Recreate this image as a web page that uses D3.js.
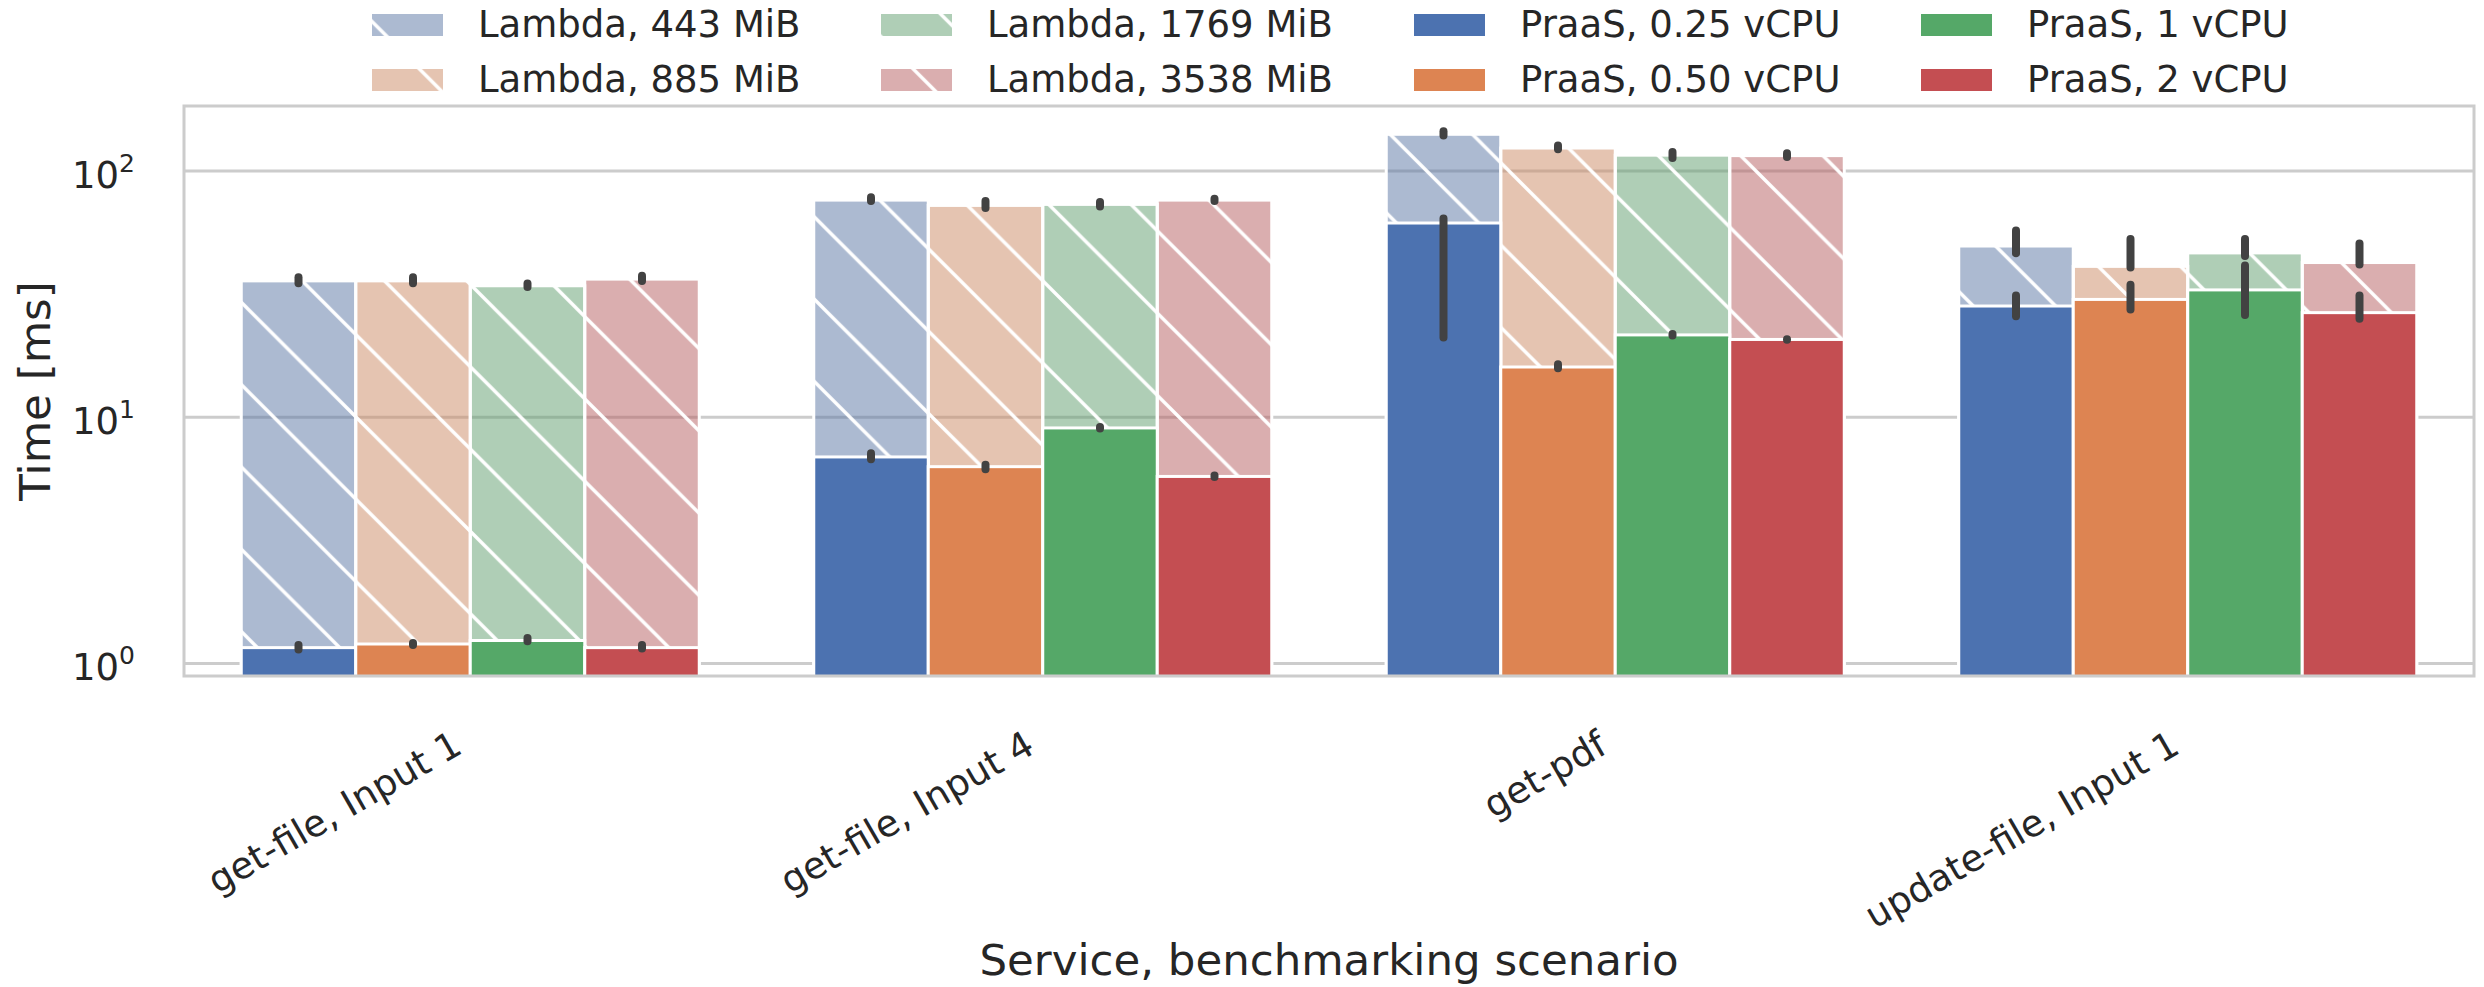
<!DOCTYPE html>
<html>
<head>
<meta charset="utf-8">
<script src="https://cdn.jsdelivr.net/npm/d3@7"></script>
<style>
  html, body { margin: 0; padding: 0; background: #ffffff; }
  svg { display: block; }
  text { font-family: "DejaVu Sans", sans-serif; fill: #262626; }
</style>
</head>
<body>
<svg id="chart" width="2484" height="987"></svg>
<script>
// ---------------- data ----------------
const categories = ["get-file, Input 1", "get-file, Input 4", "get-pdf", "update-file, Input 1"];
const lambdaSeries = ["Lambda, 443 MiB", "Lambda, 885 MiB", "Lambda, 1769 MiB", "Lambda, 3538 MiB"];
const praasSeries = ["PraaS, 0.25 vCPU", "PraaS, 0.50 vCPU", "PraaS, 1 vCPU", "PraaS, 2 vCPU"];

// values per series, one entry per category
const lambdaMean = [
  [35.8, 76.2, 141.0, 49.6],
  [35.8, 72.5, 124.0, 41.0],
  [34.2, 73.2, 116.0, 46.5],
  [36.4, 76.2, 115.5, 42.5]
];
const lambdaLo = [
  [35.0, 75.5, 139.5, 46.4],
  [35.0, 70.8, 122.5, 40.6],
  [33.8, 71.8, 113.0, 45.2],
  [35.8, 75.6, 114.0, 41.7]
];
const lambdaHi = [
  [37.0, 78.3, 145.0, 57.3],
  [37.0, 75.5, 127.0, 53.0],
  [34.9, 74.8, 119.5, 53.0],
  [37.6, 77.2, 118.0, 50.8]
];
const praasMean = [
  [1.16, 6.90, 61.5, 28.3],
  [1.20, 6.30, 16.0, 30.1],
  [1.24, 9.05, 21.6, 32.9],
  [1.16, 5.75, 20.7, 26.6]
];
const praasLo = [
  [1.14, 6.75, 21.1, 25.7],
  [1.19, 6.15, 15.8, 27.4],
  [1.23, 9.00, 21.5, 26.0],
  [1.15, 5.72, 20.65, 25.1]
];
const praasHi = [
  [1.19, 7.15, 64.1, 31.2],
  [1.21, 6.42, 16.4, 34.5],
  [1.27, 9.12, 21.8, 41.3],
  [1.19, 5.80, 20.75, 31.2]
];
const yTicks = [1, 10, 100];
const yTickExponents = ["0", "1", "2"];

// ---------------- style ----------------
const solidColors = ["#4c72b0", "#dd8452", "#55a868", "#c44e52"];
const lightColors = ["#5975a4", "#cc8963", "#5f9e6e", "#b55d60"]; // drawn at 50% opacity

const W = 2484, H = 987;
const plot = { left: 184, right: 2474, top: 106, bottom: 676 };

const svg = d3.select("#chart");
svg.append("rect").attr("width", W).attr("height", H).attr("fill", "#ffffff");

// scales
const x = d3.scaleBand().domain(categories).range([plot.left, plot.right])
  .paddingInner(0.2).paddingOuter(0.1);
const xHue = d3.scaleBand().domain(d3.range(4)).range([0, x.bandwidth()]).padding(0);
const y = d3.scaleLog().domain([0.8897, 183.7]).range([plot.bottom, plot.top]);

// defs: hatch pattern (global, continuous) and clip
const defs = svg.append("defs");
const s = 82.3;
const pat = defs.append("pattern")
  .attr("id", "hatch")
  .attr("patternUnits", "userSpaceOnUse")
  .attr("width", s).attr("height", s)
  .attr("patternTransform", "translate(0,61)");
pat.append("path")
  .attr("d", `M-2,-2 L${s + 2},${s + 2} M-2,${s - 2} L2,${s + 2} M${s - 2},-2 L${s + 2},2`)
  .attr("stroke", "#ffffff").attr("stroke-width", 3.4).attr("fill", "none");
defs.append("clipPath").attr("id", "plotclip").append("rect")
  .attr("x", plot.left).attr("y", plot.top)
  .attr("width", plot.right - plot.left).attr("height", plot.bottom - plot.top);

// gridlines
svg.append("g").selectAll("line").data(yTicks).join("line")
  .attr("x1", plot.left).attr("x2", plot.right)
  .attr("y1", d => y(d)).attr("y2", d => y(d))
  .attr("stroke", "#cccccc").attr("stroke-width", 3);

const plotG = svg.append("g").attr("clip-path", "url(#plotclip)");

// build records
function records(means, los, his) {
  const out = [];
  means.forEach((row, si) => row.forEach((v, ci) => {
    out.push({ si, ci, v, lo: los[si][ci], hi: his[si][ci] });
  }));
  return out;
}
const lambdaRec = records(lambdaMean, lambdaLo, lambdaHi);
const praasRec = records(praasMean, praasLo, praasHi);
const bx = d => x(categories[d.ci]) + xHue(d.si);
const bw = xHue.bandwidth();
const base = plot.bottom + 20;

// Lambda bars (light, hatched)
const lg = plotG.append("g");
lg.selectAll("rect.fill").data(lambdaRec).join("rect").attr("class", "fill")
  .attr("x", bx).attr("width", bw)
  .attr("y", d => y(d.v)).attr("height", d => base - y(d.v))
  .attr("fill", d => lightColors[d.si]).attr("fill-opacity", 0.5);
lg.selectAll("rect.hatch").data(lambdaRec).join("rect").attr("class", "hatch")
  .attr("x", bx).attr("width", bw)
  .attr("y", d => y(d.v)).attr("height", d => base - y(d.v))
  .attr("fill", "url(#hatch)");
lg.selectAll("rect.edge").data(lambdaRec).join("rect").attr("class", "edge")
  .attr("x", bx).attr("width", bw)
  .attr("y", d => y(d.v)).attr("height", d => base - y(d.v))
  .attr("fill", "none").attr("stroke", "#ffffff").attr("stroke-width", 3);

// error bars
function errBars(g, data) {
  g.selectAll("line").data(data).join("line")
    .attr("x1", d => bx(d) + bw / 2).attr("x2", d => bx(d) + bw / 2)
    .attr("y1", d => y(d.lo)).attr("y2", d => y(d.hi))
    .attr("stroke", "#424242").attr("stroke-width", 8)
    .attr("stroke-linecap", "round");
}
errBars(plotG.append("g"), lambdaRec);

// PraaS bars (solid)
plotG.append("g").selectAll("rect").data(praasRec).join("rect")
  .attr("x", bx).attr("width", bw)
  .attr("y", d => y(d.v)).attr("height", d => base - y(d.v))
  .attr("fill", d => solidColors[d.si])
  .attr("stroke", "#ffffff").attr("stroke-width", 3);
errBars(plotG.append("g"), praasRec);

// frame
svg.append("rect")
  .attr("x", plot.left).attr("y", plot.top)
  .attr("width", plot.right - plot.left).attr("height", plot.bottom - plot.top)
  .attr("fill", "none").attr("stroke", "#cccccc").attr("stroke-width", 3);

// y axis
const yAxis = svg.append("g").attr("transform", `translate(${plot.left},0)`)
  .call(d3.axisLeft(y).tickValues(yTicks).tickSize(0).tickPadding(49).tickFormat(() => ""));
yAxis.select(".domain").remove();
yAxis.selectAll(".tick text").each(function (d, i) {
  const t = d3.select(this);
  t.attr("dy", "16px").attr("font-size", 37).attr("fill", "#262626")
    .style("font-family", "DejaVu Sans");
  t.text(null);
  t.append("tspan").text("10");
  t.append("tspan").attr("dy", -16).attr("font-size", 25).text(yTickExponents[i]);
});

// x axis
const xAxis = svg.append("g").attr("transform", `translate(0,${plot.bottom})`)
  .call(d3.axisBottom(x).tickSize(0));
xAxis.select(".domain").remove();
xAxis.selectAll(".tick text")
  .attr("x", -6).attr("y", 76).attr("dy", 0)
  .attr("text-anchor", "end")
  .attr("transform", "rotate(-30,-6,76)")
  .attr("font-size", 37).attr("fill", "#262626")
  .style("font-family", "DejaVu Sans");

// axis labels
svg.append("text").attr("x", (plot.left + plot.right) / 2).attr("y", 975)
  .attr("text-anchor", "middle").attr("font-size", 43.5)
  .text("Service, benchmarking scenario");
svg.append("text").attr("transform", `translate(50,${(plot.top + plot.bottom) / 2}) rotate(-90)`)
  .attr("text-anchor", "middle").attr("font-size", 43.5)
  .text("Time [ms]");

// legend
const legendItems = [
  ...lambdaSeries.map((name, i) => ({ name, i, lambda: true })),
  ...praasSeries.map((name, i) => ({ name, i, lambda: false }))
];
const colX = [372, 881, 1414, 1921];
const rowY = [14, 69];
const lgd = svg.append("g");
legendItems.forEach((it, k) => {
  const c = Math.floor(k / 2), r = k % 2;
  const hx = colX[c], hy = rowY[r];
  if (it.lambda) {
    lgd.append("rect").attr("x", hx).attr("y", hy).attr("width", 71).attr("height", 22)
      .attr("fill", lightColors[it.i]).attr("fill-opacity", 0.5);
    lgd.append("rect").attr("x", hx).attr("y", hy).attr("width", 71).attr("height", 22)
      .attr("fill", "url(#hatch)");
  } else {
    lgd.append("rect").attr("x", hx).attr("y", hy).attr("width", 71).attr("height", 22)
      .attr("fill", solidColors[it.i]);
  }
  lgd.append("text").attr("x", hx + 106).attr("y", hy + 22.7)
    .attr("font-size", 37).text(it.name);
});
</script>
</body>
</html>
